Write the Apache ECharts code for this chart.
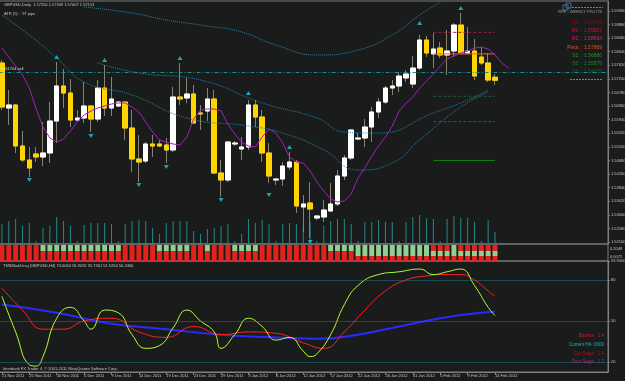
<!DOCTYPE html>
<html>
<head>
<meta charset="utf-8">
<script src="https://cdn.jsdelivr.net/npm/echarts@6/dist/echarts.min.js"></script>
<style>
html, body { margin: 0; padding: 0; background: #1a1c1c; }
#chart { width: 625px; height: 381px; }
</style>
</head>
<body>
<div id="chart"></div>
<script>
// bars (daily, incl. sunday sessions)
var dates = ['21 Nov 2011','22 Nov 2011','23 Nov 2011','24 Nov 2011','25 Nov 2011','27 Nov 2011','28 Nov 2011','29 Nov 2011','30 Nov 2011','1 Dec 2011',
  '2 Dec 2011','4 Dec 2011','5 Dec 2011','6 Dec 2011','7 Dec 2011','8 Dec 2011','9 Dec 2011','11 Dec 2011','12 Dec 2011','13 Dec 2011',
  '14 Dec 2011','15 Dec 2011','16 Dec 2011','18 Dec 2011','19 Dec 2011','20 Dec 2011','21 Dec 2011','22 Dec 2011','23 Dec 2011','26 Dec 2011',
  '27 Dec 2011','28 Dec 2011','29 Dec 2011','30 Dec 2011','1 Jan 2012','2 Jan 2012','3 Jan 2012','4 Jan 2012','5 Jan 2012','6 Jan 2012',
  '8 Jan 2012','9 Jan 2012','10 Jan 2012','11 Jan 2012','12 Jan 2012','13 Jan 2012','15 Jan 2012','16 Jan 2012','17 Jan 2012','18 Jan 2012',
  '19 Jan 2012','20 Jan 2012','22 Jan 2012','23 Jan 2012','24 Jan 2012','25 Jan 2012','26 Jan 2012','27 Jan 2012','29 Jan 2012','30 Jan 2012',
  '31 Jan 2012','1 Feb 2012','2 Feb 2012','3 Feb 2012','5 Feb 2012','6 Feb 2012','7 Feb 2012','8 Feb 2012','9 Feb 2012','10 Feb 2012',
  '12 Feb 2012','13 Feb 2012','14 Feb 2012'];

// [open, close, low, high]
var ohlc = [
  [1.57688,1.56329,1.56236,1.57780],[1.56298,1.56391,1.55773,1.56854],[1.56391,1.55125,1.54909,1.56422],[1.55125,1.54692,1.54630,1.55588],
  [1.54692,1.54445,1.54167,1.55094],[1.54878,1.54785,1.54630,1.55094],[1.54785,1.54909,1.54507,1.55866],[1.54909,1.55896,1.54600,1.56483],
  [1.55896,1.56978,1.55217,1.57719],[1.56978,1.56761,1.56298,1.57503],[1.56761,1.55927,1.55711,1.57194],[1.55927,1.55989,1.55866,1.56236],
  [1.55989,1.56360,1.55835,1.57101],[1.56360,1.55958,1.55557,1.56391],[1.55958,1.56916,1.55866,1.57163],[1.56916,1.56298,1.56051,1.57626],
  [1.56298,1.56576,1.56051,1.57255],[1.56360,1.56483,1.56329,1.56514],[1.56483,1.55680,1.55310,1.56514],[1.55680,1.54723,1.54322,1.56236],
  [1.54723,1.54630,1.54013,1.55464],[1.54661,1.55186,1.54600,1.55248],[1.55186,1.55125,1.54785,1.55464],[1.55186,1.55125,1.55094,1.55310],
  [1.55156,1.55001,1.54600,1.55372],[1.55001,1.56638,1.54939,1.56947],[1.56638,1.56576,1.56391,1.57688],[1.56607,1.56731,1.56453,1.57225],
  [1.56731,1.55835,1.55804,1.57009],[1.56144,1.56113,1.55619,1.56391],[1.56205,1.56576,1.55896,1.56916],[1.56576,1.54291,1.54260,1.56854],
  [1.54291,1.54075,1.53550,1.54692],[1.54075,1.55248,1.54013,1.55279],[1.55186,1.55217,1.55125,1.55279],[1.55032,1.55094,1.54692,1.55402],
  [1.55094,1.56391,1.55001,1.56545],[1.56391,1.56020,1.55711,1.56545],[1.56020,1.54909,1.54630,1.56236],[1.54909,1.54198,1.53982,1.55217],
  [1.54075,1.54105,1.53920,1.54136],[1.54105,1.54507,1.53889,1.54630],[1.54476,1.54630,1.54383,1.54939],[1.54630,1.53272,1.53056,1.54692],
  [1.53241,1.53334,1.52469,1.53611],[1.53364,1.53179,1.52284,1.54013],[1.52901,1.52963,1.52839,1.52994],[1.52932,1.53148,1.52778,1.53457],
  [1.53117,1.53334,1.53087,1.53982],[1.53334,1.54198,1.53272,1.54383],[1.54198,1.54754,1.54075,1.54847],[1.54754,1.55619,1.54692,1.55650],
  [1.55341,1.55372,1.55310,1.55526],[1.55372,1.55711,1.55094,1.55958],[1.55711,1.56175,1.55248,1.56329],[1.56175,1.56483,1.55989,1.56607],
  [1.56483,1.56916,1.56422,1.56978],[1.56916,1.56978,1.56700,1.57163],[1.56978,1.57286,1.56792,1.57410],[1.57225,1.57348,1.57101,1.57472],
  [1.57039,1.57533,1.56916,1.57904],[1.57533,1.58398,1.57472,1.58553],[1.58398,1.57997,1.57873,1.58522],[1.57966,1.58120,1.57533,1.58614],
  [1.58151,1.57935,1.57842,1.58336],[1.57935,1.58058,1.57317,1.58707],[1.58058,1.58861,1.57873,1.58923],[1.58861,1.57997,1.57966,1.59232],
  [1.57997,1.58058,1.57966,1.58799],[1.58058,1.57286,1.57163,1.58429],[1.57873,1.57688,1.57626,1.58182],[1.57688,1.57163,1.57101,1.57997],
  [1.57250,1.57153,1.57007,1.57349]
];

var volumes = [20,23,25,18,21,3,16,18,27,23, 18,3,19,21,21,21,20,3,20,23, 24,23,16,10,21,23,23,23,13,10,
  15,16,18,20,3,10,25,21,24,20, 3,20,21,20,18,22,3,18,23,25, 25,20,3,22,22,24,22,22,3,22,
  27,29,26,25,3,25,28,26,26,22, 3,24,12];

// shifted moving average (runs 2 bars past the last candle)
var maLine = [1.58151,1.57873,1.57595,1.57317,1.56916,1.56267,1.55711,1.55372,1.55248,1.55341,
  1.55588,1.55866,1.56082,1.56205,1.56298,1.56360,1.56422,1.56453,1.56453,1.56329,
  1.56175,1.55866,1.55557,1.55310,1.55248,1.55186,1.55156,1.55402,1.55958,1.56236,
  1.56267,1.56267,1.56205,1.55804,1.55495,1.55248,1.55125,1.55094,1.55402,1.55650,
  1.55526,1.55217,1.54785,1.54630,1.54600,1.54353,1.54013,1.53735,1.53488,1.53395,
  1.53426,1.53642,1.54136,1.54445,1.54816,1.55125,1.55402,1.55742,1.56205,1.56453,
  1.56638,1.56916,1.57132,1.57348,1.57595,1.57811,1.57904,1.57997,1.58058,1.58151,
  1.58182,1.58120,1.57935,1.57688,1.57533];

// dotted envelope lines, [bar, price]
var bandUpper = [[12,1.59417],[19,1.59232],[24,1.59016],[29,1.58861],[35,1.58645],[40,1.58244],[46,1.57935],[52,1.58089],[57,1.58553],[61,1.59170],[64,1.59572]];
var bandMid = [[14,1.57688],[20,1.57379],[29,1.57163],[38,1.56453],[46,1.55989],[50,1.55557],[55,1.55526],[63,1.56144],[68,1.56545],[71,1.56854]];
var bandLower = [[0,1.59170],[4,1.58553],[8,1.57842],[12,1.57101],[19,1.56700],[27,1.55989],[36,1.55742],[41,1.55526],[47,1.55001],[52,1.54383],[57,1.54600],[61,1.55310],[67,1.56329],[71,1.56792]];

var fractalsUp = [[8,1.57873],[15,1.57780],[26,1.57842],[36,1.56761],[42,1.55094],[61,1.58923],[67,1.59386]];
var fractalsDown = [[4,1.54075],[13,1.55433],[20,1.53920],[24,1.54476],[32,1.53457],[39,1.53611],[45,1.52160]];

var pivots = { R3: 1.60576, R2: 1.59957, R1: 1.58634, Pivot: 1.57969, S1: 1.56660, S2: 1.55879, S3: 1.54679 };
var pivotFrom = 63, pivotTo = 72;
var sellLevel = 1.57410;
var lastClose = 1.57153;

var priceTicks = [1.52160,1.52580,1.53000,1.53420,1.53840,1.54260,1.54680,1.55100,1.55520,1.55940,
  1.56360,1.56780,1.57200,1.57620,1.58040,1.58460,1.58880,1.59300];

// signal strip: 1 = green cell
var stripTop = [0,0,0,0,0,0,1,1,1,1, 1,1,1,1,1,1,1,1,0,0, 0,0,0,1,1,1,1,1,0,0,
  1,0,0,0,1,1,1,1,0,0, 0,0,0,0,0,0,0,0,1,1, 1,1,1,1,1,1,1,1,1,1, 1,1,1,0,0,0,1,0,0,0, 0,0,0];
var stripMid = [0,0,0,0,0,0,0,0,0,0, 0,0,0,0,0,0,0,0,0,0, 0,0,0,0,0,0,0,0,0,0,
  0,0,0,0,0,0,0,0,0,0, 0,0,0,0,0,0,0,0,0,0, 0,0,1,1,1,1,1,1,1,1, 1,1,1,1,1,1,1,1,1,1, 1,1,1];

// oscillator window, [bar, value]
var oscFast = [[0,68],[2,42],[4,18],[5,17],[6,24],[8,52],[10,60],[12,50],[13,44],[15,58],[17,56],[19,40],[21,30],[23,32],
  [25,45],[27,58],[29,50],[31,42],[32,30],[34,40],[36,52],[38,46],[40,36],[42,38],[44,28],[45,24],[46,26],[48,40],
  [50,62],[52,76],[55,84],[58,86],[61,88],[63,84],[65,86],[67,88],[69,76],[71,60],[72,54]];
var oscSignal = [[0,74],[3,58],[6,44],[9,44],[12,50],[16,52],[20,42],[24,38],[28,46],[32,40],[36,42],[40,41],[44,34],
  [47,30],[50,42],[53,58],[56,72],[59,80],[62,83],[65,84],[67,84],[69,80],[71,72],[72,68]];
var oscSlow = [[0,62],[8,56],[16,48],[24,44],[32,40],[40,38],[46,37],[52,40],[58,46],[64,52],[68,55],[72,57]];
var oscLevels = [80, 50, 20];

var chart = echarts.init(document.getElementById('chart'));

var N = 89;
var slots = dates.slice();
while (slots.length < N) slots.push('');

var FONT = 'Liberation Sans';
var TXT = '#c4c4c4';
var GREEN = '#8fcf8f', RED = '#e3221b';

function everyFourth(i) { return i % 4 === 0 && i < dates.length; }

function catAxis(grid, withLabels) {
  return {
    type: 'category', gridIndex: grid, data: slots, boundaryGap: true,
    axisLine: { show: withLabels, lineStyle: { color: '#808080' } },
    axisTick: { show: withLabels, interval: everyFourth, alignWithLabel: true, length: 3, lineStyle: { color: '#808080' } },
    axisLabel: { show: withLabels, interval: everyFourth, align: 'left', fontSize: 4, fontFamily: FONT, color: TXT, margin: 2 },
    splitLine: { show: false }
  };
}

function levelLine(value, color, type) {
  return {
    type: 'line', xAxisIndex: 0, yAxisIndex: 0, symbol: 'none', silent: true,
    data: [[pivotFrom, value], [pivotTo, value]],
    lineStyle: { color: color, width: 1, type: type }
  };
}

function stripSeries(flags, size, greenColor) {
  return {
    type: 'bar', xAxisIndex: 1, yAxisIndex: 2, stack: 'strip', barWidth: 5, silent: true,
    data: flags.map(function (g) { return { value: size, itemStyle: { color: g ? greenColor : RED } }; })
  };
}

function txt(text, x, y, color, size, align) {
  return { type: 'text', silent: true, style: { text: text, x: x, y: y, fill: color, fontSize: size, fontFamily: FONT, align: align || 'left', verticalAlign: 'middle' } };
}

function gridBox(top, height) {
  return { left: -1.5, right: 17, top: top, height: height, outerBoundsMode: 'none', containLabel: false,
    show: true, borderColor: '#7a7a7a', borderWidth: 1 };
}

var option = {
  backgroundColor: '#1a1c1c',
  animation: false,
  grid: [gridBox(1, 243), gridBox(244, 17), gridBox(261, 111)],
  xAxis: [catAxis(0, false), catAxis(1, false), catAxis(2, true)],
  yAxis: [
    { type: 'value', gridIndex: 0, position: 'right', min: 1.52098, max: 1.59603,
      axisLine: { show: true, lineStyle: { color: '#808080' } },
      axisTick: { show: true, customValues: priceTicks, length: 2, lineStyle: { color: '#808080' } },
      axisLabel: { customValues: priceTicks, fontSize: 4, fontFamily: FONT, color: TXT, margin: 3,
        formatter: function (v) { return v.toFixed(5); } },
      splitLine: { show: false } },
    { type: 'value', gridIndex: 0, min: 0, max: 243, show: false },
    { type: 'value', gridIndex: 1, min: 0, max: 17, show: false },
    { type: 'value', gridIndex: 2, position: 'right', min: 12.68, max: 93.9,
      axisLine: { show: true, lineStyle: { color: '#808080' } },
      axisTick: { show: true, customValues: [20, 50, 80, 93.9], length: 2, lineStyle: { color: '#808080' } },
      axisLabel: { customValues: [20, 50, 80, 93.9], fontSize: 4, fontFamily: FONT, color: TXT, margin: 3,
        formatter: function (v) { return v > 90 ? v.toFixed(4) : String(v); } },
      splitLine: { show: false } }
  ],
  series: [
    { type: 'bar', xAxisIndex: 0, yAxisIndex: 1, data: volumes, barWidth: 1, silent: true,
      itemStyle: { color: '#248a8a' } },
    { type: 'line', xAxisIndex: 0, yAxisIndex: 0, data: bandUpper, symbol: 'none', smooth: true, silent: true,
      lineStyle: { color: '#2a7fa6', width: 1, type: 'dotted' } },
    { type: 'line', xAxisIndex: 0, yAxisIndex: 0, data: bandMid, symbol: 'none', smooth: true, silent: true,
      lineStyle: { color: '#2a7fa6', width: 1, type: 'dotted' } },
    { type: 'line', xAxisIndex: 0, yAxisIndex: 0, data: bandLower, symbol: 'none', smooth: true, silent: true,
      lineStyle: { color: '#2a7fa6', width: 1, type: 'dotted' } },
    levelLine(pivots.R1, '#9a1f45', [3, 2]),
    levelLine(pivots.Pivot, '#ff5a1a', 'solid'),
    levelLine(pivots.S1, '#1f5a35', [3, 2]),
    levelLine(pivots.S2, '#1f5e60', [3, 2]),
    levelLine(pivots.S3, '#0a8a0a', 'solid'),
    { type: 'line', xAxisIndex: 0, yAxisIndex: 0, data: maLine, symbol: 'none', silent: true,
      lineStyle: { color: '#a020b8', width: 1 },
      markLine: {
        silent: true, symbol: ['none', 'none'], precision: 5,
        data: [
          { yAxis: sellLevel, lineStyle: { color: '#1d8c8c', width: 1, type: [4, 2, 1, 2] },
            label: { show: true, position: 'insideStartTop', formatter: '\u25aa #61704 sell', fontSize: 4, fontFamily: FONT, color: '#d8d8d8', distance: [2, 1] } },
          { yAxis: lastClose, lineStyle: { opacity: 0 },
            label: { show: true, position: 'end', formatter: lastClose.toFixed(5), fontSize: 4, fontFamily: FONT, color: '#000', backgroundColor: '#e8e8e8', padding: [1, 1], distance: 2 } }
        ]
      } },
    // wicks
    { type: 'candlestick', xAxisIndex: 0, yAxisIndex: 0, barWidth: 5, silent: true,
      data: ohlc,
      itemStyle: { color: 'rgba(0,0,0,0)', color0: 'rgba(0,0,0,0)', borderColor: '#8c8070', borderColor0: '#8c8070', borderWidth: 1 } },
    // bodies
    { type: 'candlestick', xAxisIndex: 0, yAxisIndex: 0, barWidth: 5, silent: true,
      data: ohlc.map(function (d) { return [d[0], d[1], Math.min(d[0], d[1]), Math.max(d[0], d[1])]; }),
      itemStyle: { color: '#ffffff', color0: '#ffd400', borderColor: '#ffffff', borderColor0: '#ffd400', borderWidth: 1 } },
    { type: 'scatter', xAxisIndex: 0, yAxisIndex: 0, data: fractalsUp, symbol: 'triangle', symbolSize: [5, 4], silent: true,
      itemStyle: { color: '#1ec8d8' } },
    { type: 'scatter', xAxisIndex: 0, yAxisIndex: 0, data: fractalsDown, symbol: 'triangle', symbolRotate: 180, symbolSize: [5, 4], silent: true,
      itemStyle: { color: '#1ec8d8' } },
    stripSeries(dates.map(function () { return 0; }), 5, GREEN),
    stripSeries(stripMid, 5, GREEN),
    stripSeries(stripTop, 6, GREEN),
    { type: 'line', xAxisIndex: 2, yAxisIndex: 3, data: oscSlow, symbol: 'none', smooth: true, silent: true,
      lineStyle: { color: '#2a2aff', width: 2 },
      markLine: { silent: true, symbol: ['none', 'none'], label: { show: false },
        lineStyle: { color: '#1f7a86', width: 1, type: 'dotted' },
        data: oscLevels.map(function (v) { return { yAxis: v }; }) } },
    { type: 'line', xAxisIndex: 2, yAxisIndex: 3, data: oscSignal, symbol: 'none', smooth: true, silent: true,
      lineStyle: { color: '#ff2020', width: 1 } },
    { type: 'line', xAxisIndex: 2, yAxisIndex: 3, data: oscFast, symbol: 'none', smooth: true, silent: true,
      lineStyle: { color: '#b4ff30', width: 1 } }
  ],
  graphic: [
    txt('GBPUSD,Daily  1.57250 1.57349 1.57007 1.57153', 4, 4.5, TXT, 4),
    txt('ATR (5) :  97 pips', 4, 14, TXT, 4),
    { type: 'rect', silent: true, shape: { x: 563, y: 5, width: 5, height: 5 }, style: { fill: 'none', stroke: '#3f6fa8', lineWidth: 1 } },
    { type: 'rect', silent: true, shape: { x: 566, y: 3, width: 5, height: 5 }, style: { fill: 'none', stroke: '#3f6fa8', lineWidth: 1 } },
    { type: 'line', silent: true, shape: { x1: 572, y1: 7.5, x2: 603, y2: 7.5 }, style: { stroke: '#808080', lineWidth: 1, lineDash: [2, 1] } },
    txt('RPE - WEEKLY PIVOTS', 602, 12, '#9a9a9a', 4, 'right'),
    txt('R3 :  ' + pivots.R3.toFixed(5), 602, 23, '#8b0a14', 5, 'right'),
    txt('R2 :  ' + pivots.R2.toFixed(5), 602, 31, '#c8143c', 5, 'right'),
    txt('R1 :  ' + pivots.R1.toFixed(5), 602, 38.5, '#e0206a', 5, 'right'),
    txt('Pivot :  ' + pivots.Pivot.toFixed(5), 602, 47.5, '#ff4a18', 5, 'right'),
    txt('S1 :  ' + pivots.S1.toFixed(5), 602, 56, '#1e9a1e', 5, 'right'),
    txt('S2 :  ' + pivots.S2.toFixed(5), 602, 64, '#1e8a1e', 5, 'right'),
    txt('S3 :  ' + pivots.S3.toFixed(5), 602, 72, '#0c6a0c', 5, 'right'),
    { type: 'line', silent: true, shape: { x1: 570, y1: 79.5, x2: 603, y2: 79.5 }, style: { stroke: '#808080', lineWidth: 1, lineDash: [2, 1] } },
    txt('0.2048', 610, 249, TXT, 4),
    txt('0.0072', 610, 257, TXT, 4),
    txt('TMSMarkDnoj (GBPUSD,H4) 74.0064 56.9092 35.7361 51.5264 56.2466', 3, 265.5, TXT, 4),
    txt('Bounce : 1.4', 604, 336, '#c8203c', 4.5, 'right'),
    txt('Current HA: 0000', 604, 345, '#20b4b4', 4.5, 'right'),
    txt('Cur Stage : 1.4', 604, 353.5, '#a81020', 4.5, 'right'),
    txt('Prev Stage : 1.3', 604, 362, '#d8107a', 4.5, 'right'),
    txt('Interbank FX Trader 4, \u00a9 2001-2011 MetaQuotes Software Corp.', 3, 369, TXT, 4)
  ]
};

chart.setOption(option);
</script>
</body>
</html>
